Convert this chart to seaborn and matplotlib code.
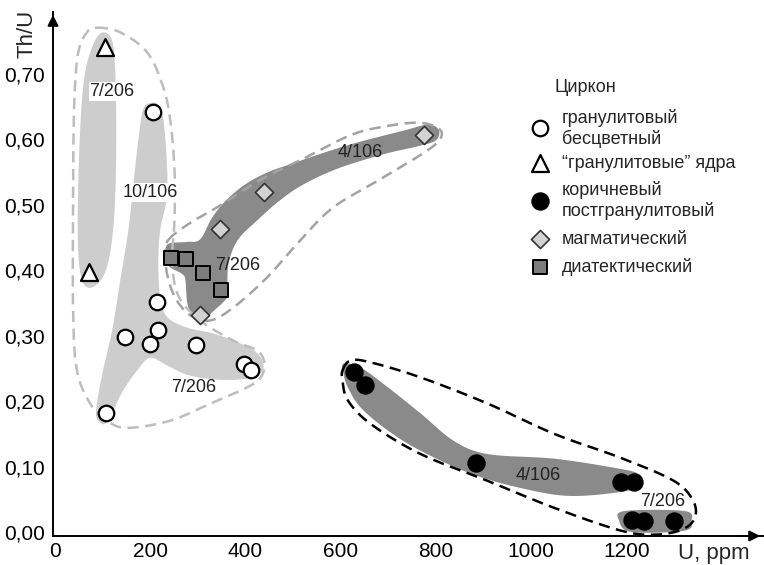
import numpy as np
import pandas as pd
import matplotlib
matplotlib.use("Agg")
import matplotlib.pyplot as plt
import seaborn as sns

# ---------------- data ----------------
gran_U = [205, 214, 147, 217, 200, 297, 396, 412, 107]
gran_ThU = [0.642, 0.351, 0.298, 0.309, 0.287, 0.286, 0.257, 0.247, 0.182]

core_U = [104, 72]
core_ThU = [0.740, 0.397]

brown_U = [627, 651, 885, 1188, 1216, 1212, 1237, 1300]
brown_ThU = [0.244, 0.224, 0.106, 0.077, 0.076, 0.018, 0.017, 0.017]

magm_U = [304, 347, 438, 775]
magm_ThU = [0.332, 0.462, 0.519, 0.606]

diat_U = [244, 276, 310, 349]
diat_ThU = [0.419, 0.417, 0.395, 0.369]

# field outlines (control points, data units)
fieldA_U = [101, 122, 128, 128, 122, 107, 80, 57, 48, 51, 61, 80]
fieldA_ThU = [0.763, 0.744, 0.661, 0.553, 0.461, 0.400, 0.374, 0.384, 0.446, 0.583, 0.691, 0.744]

fieldB_U = [200, 217, 229, 236, 221, 217, 221, 236, 278, 333, 389, 425, 438, 427, 389, 333, 278,
            236, 200, 173, 143, 122, 105, 88, 88, 101, 120, 137, 154, 164, 175, 185]
fieldB_ThU = [0.655, 0.652, 0.622, 0.522, 0.461, 0.410, 0.358, 0.328, 0.312, 0.303, 0.288, 0.273,
              0.254, 0.239, 0.233, 0.233, 0.240, 0.254, 0.266, 0.247, 0.216, 0.185, 0.165, 0.173,
              0.196, 0.247, 0.308, 0.384, 0.461, 0.527, 0.599, 0.645]

light_out_U = [88, 137, 194, 227, 242, 251, 251, 246, 259, 305, 375, 425, 440, 432, 404, 326, 242,
               152, 109, 74, 46, 38, 38, 40, 48, 67]
light_out_ThU = [0.770, 0.763, 0.732, 0.680, 0.629, 0.553, 0.476, 0.415, 0.361, 0.323, 0.292, 0.277,
                 0.257, 0.236, 0.221, 0.196, 0.170, 0.159, 0.170, 0.196, 0.247, 0.338, 0.507, 0.645,
                 0.729, 0.763]

magm_field_U = [242, 278, 305, 330, 360, 400, 446, 500, 564, 636, 733, 783, 806, 800, 762, 691, 594,
                520, 470, 425, 385, 366, 362, 364, 352, 331, 312, 291, 278, 274, 267, 242, 232, 232]
magm_field_ThU = [0.441, 0.443, 0.447, 0.480, 0.507, 0.531, 0.549, 0.563, 0.579, 0.595, 0.613,
                  0.622, 0.614, 0.598, 0.589, 0.577, 0.555, 0.530, 0.505, 0.476, 0.447, 0.415,
                  0.385, 0.362, 0.350, 0.336, 0.322, 0.326, 0.349, 0.384, 0.394, 0.404, 0.415, 0.433]

magm_out_U = [238, 284, 341, 432, 516, 621, 691, 762, 804, 811, 783, 691, 585, 516, 446, 375, 326,
              284, 253, 236, 232]
magm_out_ThU = [0.446, 0.472, 0.496, 0.538, 0.568, 0.606, 0.619, 0.625, 0.617, 0.603, 0.583, 0.542,
                0.496, 0.446, 0.389, 0.343, 0.323, 0.331, 0.357, 0.392, 0.423]

brown_field_U = [606, 642, 699, 768, 838, 909, 1048, 1175, 1225, 1232, 1204, 1084, 979, 874, 768,
                 699, 642, 615, 606]
brown_field_ThU = [0.257, 0.251, 0.221, 0.181, 0.139, 0.119, 0.112, 0.098, 0.089, 0.074, 0.063,
                   0.055, 0.067, 0.089, 0.124, 0.155, 0.190, 0.221, 0.242]

brown_small_U = [1196, 1322, 1337, 1322, 1211, 1185]
brown_small_ThU = [0.032, 0.032, 0.017, 0.002, 0.000, 0.017]

brown_out_U = [604, 621, 663, 768, 909, 1048, 1189, 1300, 1340, 1344, 1318, 1262, 1189, 1048, 909,
               768, 663, 615, 604]
brown_out_ThU = [0.247, 0.262, 0.259, 0.236, 0.196, 0.150, 0.113, 0.078, 0.048, 0.022, 0.004,
                 -0.004, 0.002, 0.037, 0.078, 0.119, 0.165, 0.201, 0.231]

field_labels = ["7/206", "10/106", "7/206", "4/106", "7/206", "4/106", "7/206"]
field_label_U = [120, 200, 291, 642, 383, 1015, 1276]
field_label_ThU = [0.672, 0.519, 0.221, 0.579, 0.407, 0.086, 0.047]

x_ticks = [0, 200, 400, 600, 800, 1000, 1200, 1400]
x_ticklabels = ["0", "200", "400", "600", "800", "1000", "1200", ""]
y_ticks = [0.0, 0.1, 0.2, 0.3, 0.4, 0.5, 0.6, 0.7]
y_ticklabels = ["0,00", "0,10", "0,20", "0,30", "0,40", "0,50", "0,60", "0,70"]

legend_title = "Циркон"
legend_labels = ["гранулитовый\nбесцветный", "“гранулитовые” ядра",
                 "коричневый\nпостгранулитовый", "магматический", "диатектический"]

# ---------------- style ----------------
sns.set_theme(style="white")
plt.rcParams["font.family"] = ["Liberation Sans", "DejaVu Sans"]
TICK_FONT = ["Liberation Sans Narrow", "Liberation Sans", "DejaVu Sans"]

W, H = 764, 565
fig = plt.figure(figsize=(W / 100, H / 100), dpi=100)
ax = fig.add_axes([53 / W, 1 - 536 / H, (763 - 53) / W, (536 - 12) / H])
ax.set_xlim(-4.2, 1487)
ax.set_ylim(-0.0061, 0.794)


def smooth_closed(xs, ys, n=24):
    P = np.column_stack([xs, ys]).astype(float)
    N = len(P)
    t = np.linspace(0, 1, n, endpoint=False)[:, None]
    segs = []
    for i in range(N):
        p0, p1, p2, p3 = P[i - 1], P[i], P[(i + 1) % N], P[(i + 2) % N]
        segs.append(0.5 * (2 * p1 + (-p0 + p2) * t + (2 * p0 - 5 * p1 + 4 * p2 - p3) * t ** 2
                           + (-p0 + 3 * p1 - 3 * p2 + p3) * t ** 3))
    out = np.vstack(segs)
    out = np.vstack([out, out[:1]])
    return out[:, 0], out[:, 1]


LIGHT = "#cdcdcd"
DARK = "#8a8a8a"
for xs, ys, c in [(fieldA_U, fieldA_ThU, LIGHT), (fieldB_U, fieldB_ThU, LIGHT),
                  (magm_field_U, magm_field_ThU, DARK), (brown_field_U, brown_field_ThU, DARK),
                  (brown_small_U, brown_small_ThU, DARK)]:
    sx, sy = smooth_closed(xs, ys)
    ax.fill(sx, sy, color=c, lw=0, zorder=1)

for xs, ys, c in [(light_out_U, light_out_ThU, "#bdbdbd"), (magm_out_U, magm_out_ThU, "#a3a3a3"),
                  (brown_out_U, brown_out_ThU, "#000000")]:
    sx, sy = smooth_closed(xs, ys)
    ax.plot(sx, sy, color=c, lw=1.8, ls=(0, (4.5, 2.6)), zorder=2, solid_capstyle="butt")

for i, (lab, x, y) in enumerate(zip(field_labels, field_label_U, field_label_ThU)):
    kw = {}
    if i < 2:
        kw["bbox"] = dict(fc="white", ec="none", pad=0.6)
    ax.text(x, y, lab, fontsize=13, ha="center", va="center", color="#222222", zorder=3, **kw)

# ---------------- points ----------------
df_g = pd.DataFrame({"U": gran_U, "ThU": gran_ThU})
df_c = pd.DataFrame({"U": core_U, "ThU": core_ThU})
df_b = pd.DataFrame({"U": brown_U, "ThU": brown_ThU})
df_m = pd.DataFrame({"U": magm_U, "ThU": magm_ThU})
df_d = pd.DataFrame({"U": diat_U, "ThU": diat_ThU})

styles = [
    (df_g, dict(marker="o", s=125, color="white", edgecolor="black", linewidth=1.6)),
    (df_c, dict(marker="^", s=150, color="white", edgecolor="black", linewidth=1.6)),
    (df_b, dict(marker="o", s=150, color="black", edgecolor="black", linewidth=1.0)),
    (df_m, dict(marker="D", s=85, color="#d2d2d2", edgecolor="#333333", linewidth=1.2)),
    (df_d, dict(marker="s", s=105, color="#7c7c7c", edgecolor="black", linewidth=1.4)),
]
for df, kw in styles:
    sns.scatterplot(data=df, x="U", y="ThU", ax=ax, zorder=5, legend=False, clip_on=False, **kw)

# ---------------- axes ----------------
for s in ["top", "right"]:
    ax.spines[s].set_visible(False)
for s in ["left", "bottom"]:
    ax.spines[s].set_color("black")
    ax.spines[s].set_linewidth(1.4)
ax.set_xticks(x_ticks)
ax.set_xticklabels(x_ticklabels, family=TICK_FONT, fontsize=15)
ax.set_yticks(y_ticks)
ax.set_yticklabels(y_ticklabels, family=TICK_FONT, fontsize=15)
ax.tick_params(axis="x", direction="inout", length=8, width=1.2, pad=0, colors="black")
ax.tick_params(axis="y", direction="out", length=4, width=1.2, pad=2, colors="black")
ax.set_xlabel("")
ax.set_ylabel("")
ax.grid(False)
ax.annotate("", xy=(1.0, 0), xytext=(0.96, 0), xycoords="axes fraction",
            arrowprops=dict(arrowstyle="-|>", color="black", lw=1.4, mutation_scale=16))
ax.annotate("", xy=(0, 1.0), xytext=(0, 0.96), xycoords="axes fraction",
            arrowprops=dict(arrowstyle="-|>", color="black", lw=1.4, mutation_scale=16))

fig.text(750 / W, 1 - 553 / H, "U, ppm", fontsize=16, ha="right", va="center")
fig.text(27 / W, 1 - 34 / H, "Th/U", fontsize=16, ha="center", va="center", rotation=90)

# ---------------- legend (manual) ----------------
def fx(px):
    return px / W


def fy(py):
    return 1 - py / H


fig.text(fx(555), fy(87), legend_title, fontsize=13, ha="left", va="center")
leg_marker_y = [128, 163, 201, 239, 267]
leg_text_y = [118, 163, 190, 239, 267]
marker_kws = [styles[i][1] for i in range(5)]
for lab, my, ty, kw in zip(legend_labels, leg_marker_y, leg_text_y, marker_kws):
    ax.scatter([fx(540)], [fy(my)], transform=fig.transFigure, clip_on=False, zorder=6,
               marker=kw["marker"], s=kw["s"], c=kw["color"], edgecolors=kw["edgecolor"],
               linewidths=kw["linewidth"])
    for j, line in enumerate(lab.split("\n")):
        fig.text(fx(562), fy(ty + 21 * j), line, fontsize=13, ha="left", va="center")

fig.savefig("out.png", dpi=100)
